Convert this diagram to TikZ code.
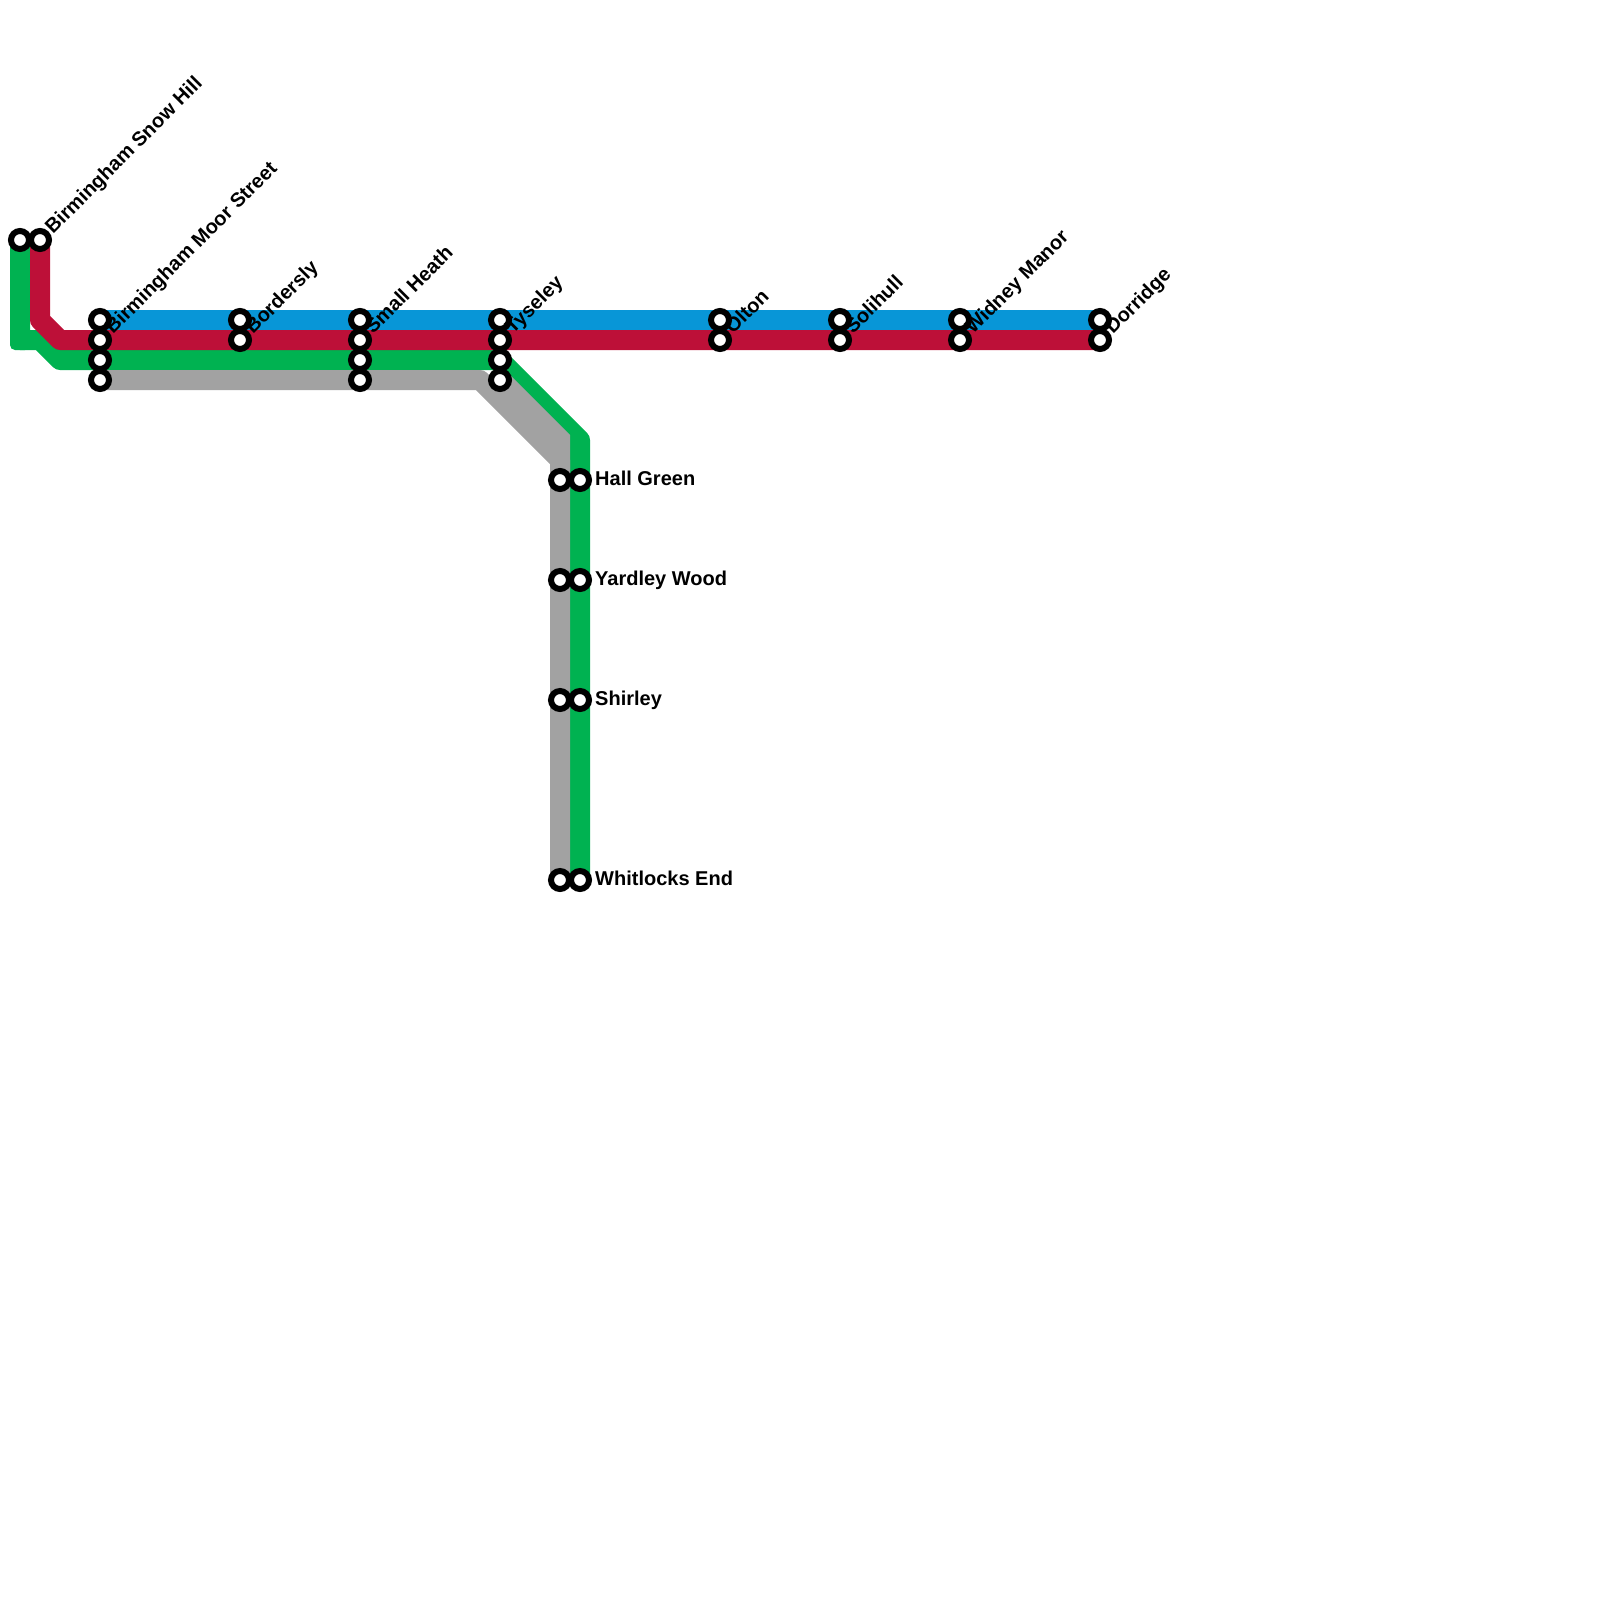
\documentclass[tikz,border=0pt]{standalone}
\usepackage{fontspec}
\setmainfont{Liberation Sans}
\definecolor{lblue}{HTML}{0896D7}
\definecolor{lred}{HTML}{BD1038}
\definecolor{lgreen}{HTML}{00B251}
\definecolor{lgrey}{HTML}{A2A2A2}
\tikzset{
 x=1pt,y=-1pt,
 route/.style={line width=20pt,line join=round,line cap=butt},
 stn/.style={circle,draw=black,fill=white,line width=6pt,minimum size=18pt,inner sep=0pt},
 lab/.style={font=\bfseries\fontsize{20}{20}\selectfont,text=black,inner sep=0pt},
 diag/.style={lab,rotate=45,anchor=base west},
 side/.style={lab,anchor=base west},
}
\begin{document}
\begin{tikzpicture}
\useasboundingbox (0,0) rectangle (1600,1600);
% station positions
\foreach \n/\x/\y in {sa/20/240,sb/40/240,
 ma/100/320,mb/100/340,mc/100/360,md/100/380,
 ba/240/320,bb/240/340,
 ha/360/320,hb/360/340,hc/360/360,hd/360/380,
 ta/500/320,tb/500/340,tc/500/360,td/500/380,
 oa/720/320,ob/720/340,
 la/840/320,lb/840/340,
 wa/960/320,wb/960/340,
 da/1100/320,db/1100/340,
 ga/560/480,gb/580/480,
 ya/560/580,yb/580/580,
 ra/560/700,rb/580/700,
 ea/560/880,eb/580/880}{\coordinate (p\n) at (\x,\y);}
% bends
\coordinate (c1) at (20,340);\coordinate (c2) at (40,340);\coordinate (c3) at (60,360);
\coordinate (c4) at (40,320);\coordinate (c5) at (60,340);
\coordinate (c6) at (580,440);\coordinate (c7) at (480,380);\coordinate (c8) at (560,460);
% routes
\draw[route,lblue] (pma) -- (pda);
\draw[route,lgreen] (psa) -- (c1) -- (c2) -- (c3) -- (ptc) -- (c6) -- (peb);
\fill[lgreen,rounded corners=5pt] (10,330) rectangle (30,350);
\draw[route,lgrey] (pmd) -- (c7) -- (c8) -- (pea);
\fill[lgrey] (500,365) -- (570,435) -- (570,470) -- (555,470) -- (500,390) -- cycle;
\draw[route,lred] (psb) -- (c4) -- (c5) -- (pdb);
% stations
\foreach \n in {sa,sb,ma,mb,mc,md,ba,bb,ha,hb,hc,hd,ta,tb,tc,td,oa,ob,la,lb,wa,wb,da,db,ga,gb,ya,yb,ra,rb,ea,eb}{\node[stn] (\n) at (p\n) {};}
% labels
\node[diag] (t1) at (53,235) {Birmingham Snow Hill};
\node[diag] (t2) at (113,335) {Birmingham Moor Street};
\node[diag] (t3) at (253,335) {Bordersly};
\node[diag] (t4) at (373,335) {Small Heath};
\node[diag] (t5) at (513,335) {Tyseley};
\node[diag] (t6) at (733,335) {Olton};
\node[diag] (t7) at (853,335) {Solihull};
\node[diag] (t8) at (973,335) {Widney Manor};
\node[diag] (t9) at (1113,335) {Dorridge};
\node[side] (t10) at (595,485) {Hall Green};
\node[side] (t11) at (595,585) {Yardley Wood};
\node[side] (t12) at (595,705) {Shirley};
\node[side] (t13) at (595,885) {Whitlocks End};
\end{tikzpicture}
\end{document}
